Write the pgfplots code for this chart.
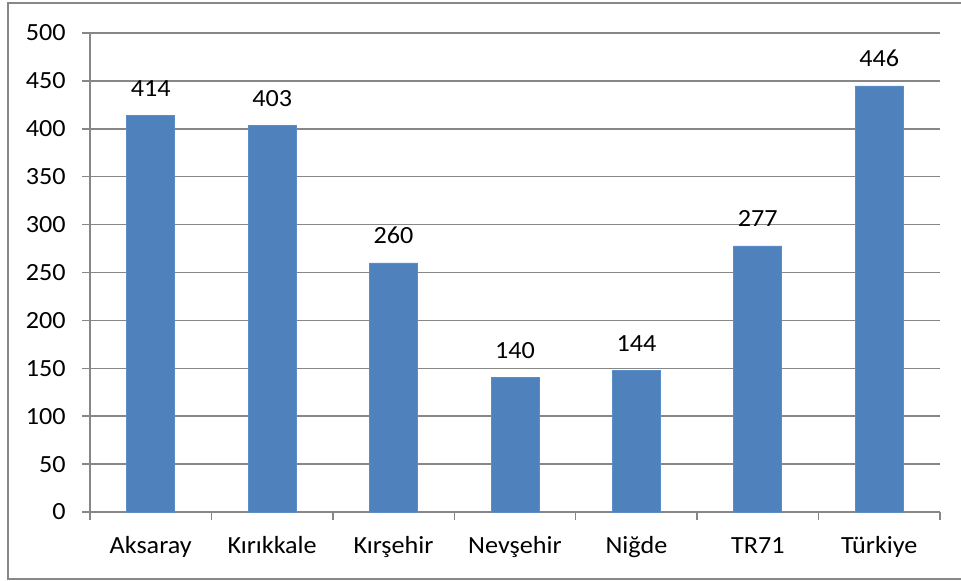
\documentclass[border=0pt]{standalone}
\usepackage{pgfplots}
\pgfplotsset{compat=1.18}
\usepackage{fontspec}
\setmainfont{Carlito}[FakeStretch=1.06]
\definecolor{barblue}{HTML}{4F81BD}
\definecolor{bardraw}{HTML}{5A8CC6}
\definecolor{gridgray}{HTML}{878787}
\begin{document}
\begin{tikzpicture}[x=1pt,y=1pt]
\useasboundingbox (-67.5pt,-51.75pt) rectangle (653.25pt,384pt);
\draw[gridgray, line width=1.1pt] (-61.5pt,-50.25pt) rectangle (660pt,381.75pt);
\begin{axis}[
  at={(0pt,0pt)}, anchor=south west,
  scale only axis,
  width=637.5pt, height=359.25pt,
  xmin=-0.5, xmax=6.5, ymin=0, ymax=500,
  ytick distance=50,
  axis lines*=left,
  axis line style={gridgray, line width=1.1pt},
  ymajorgrids,
  major grid style={gridgray, line width=1.1pt},
  tick align=outside,
  major tick length=6pt,
  tick style={gridgray, line width=1.1pt},
  xtick={-0.5,0.5,...,6.5},
  xticklabels={},
  extra x ticks={0,1,2,3,4,5,6},
  extra x tick labels={Aksaray,Kırıkkale,Kırşehir,Nevşehir,Niğde,TR71,Türkiye},
  extra x tick style={major tick length=0pt, xticklabel style={anchor=base, inner sep=0pt, yshift=-31.25pt}},
  /pgf/number format/assume math mode=true,
  tick label style={font=\fontsize{18.5}{21}\selectfont, text=black},
  yticklabel style={anchor=east, inner sep=0pt, xshift=-12pt},
  bar width=0.395,
  nodes near coords={\pgfplotspointmeta},
  point meta=explicit symbolic,
  every node near coord/.append style={font=\fontsize{18.5}{21}\selectfont, text=black, anchor=base, inner sep=0pt, yshift=14.25pt},
  clip=false,
]
\addplot[ybar, fill=barblue, draw=bardraw, line width=0.6pt] table[meta=label] {
x y label
0 414.4 414
1 403.2 403
2 260.0 260
3 140.2 140
4 148.2 144
5 277.7 277
6 444.7 446
};
\end{axis}
\end{tikzpicture}
\end{document}
